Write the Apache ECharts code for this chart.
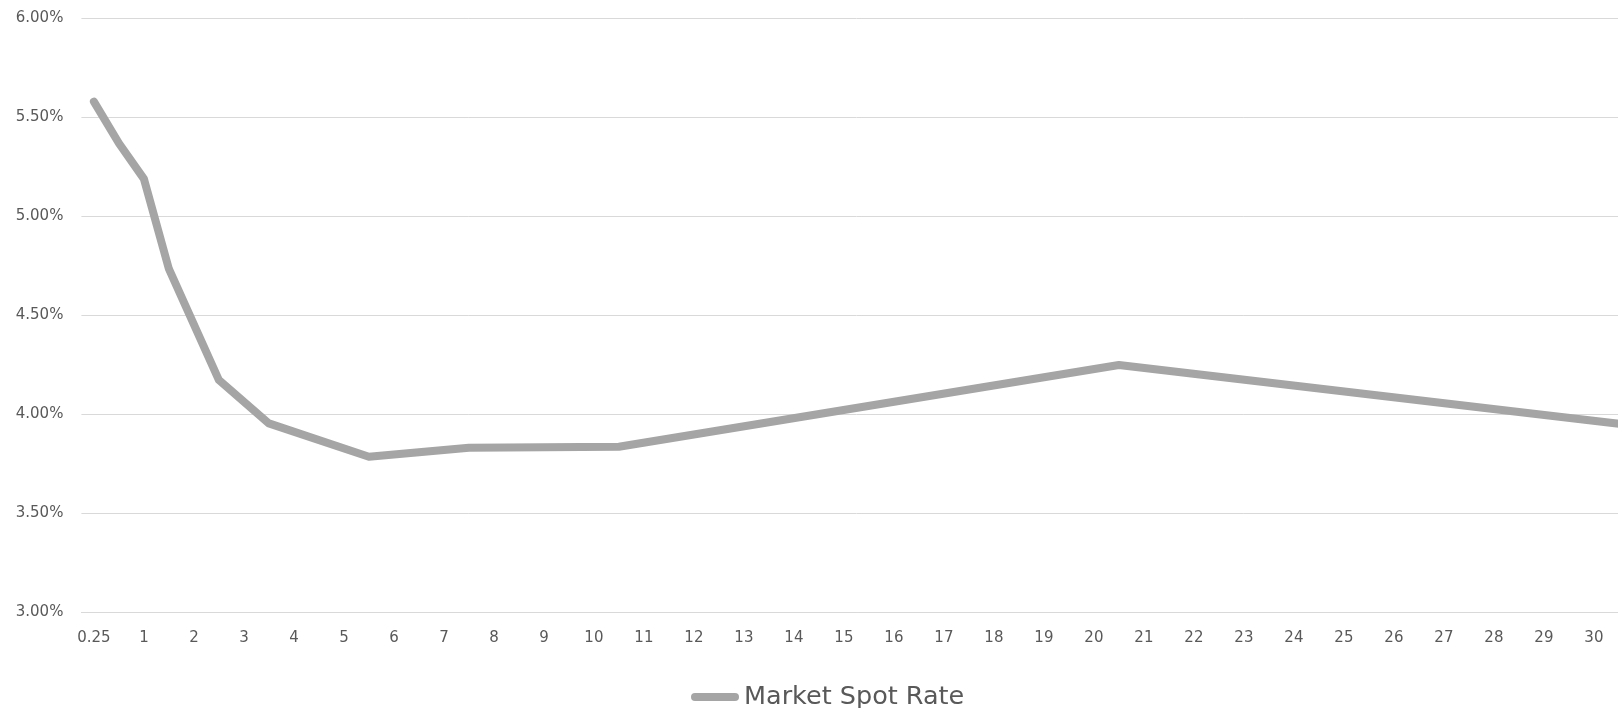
<!DOCTYPE html>
<html>
<head>
<meta charset="utf-8">
<script src="https://cdn.jsdelivr.net/npm/echarts@6/dist/echarts.min.js"></script>
<style>
  html, body { margin: 0; padding: 0; background: #ffffff; overflow: hidden; width: 1618px; height: 708px; }
  #chart { width: 1632px; height: 708px; }
</style>
</head>
<body>
<div id="chart"></div>
<script>
// Tenor categories (years); every other label is shown on the axis
var categories = ["0.25","0.5","1","1.5","2","2.5","3","3.5","4","4.5","5","5.5","6","6.5","7","7.5","8","8.5","9","9.5","10","10.5","11","11.5","12","12.5","13","13.5","14","14.5","15","15.5","16","16.5","17","17.5","18","18.5","19","19.5","20","20.5","21","21.5","22","22.5","23","23.5","24","24.5","25","25.5","26","26.5","27","27.5","28","28.5","29","29.5","30","30.5"];

// Market spot rate (%) at its vertices; gaps are joined by straight segments
var spotRate = [5.58, 5.37, 5.19, 4.735, null, 4.174, null, 3.955, null, null, null, 3.787, null, null, null, 3.832, null, null, null, null, null, 3.837, null, null, null, null, null, null, null, null, null, null, null, null, null, null, null, null, null, null, null, 4.25, null, null, null, null, null, null, null, null, null, null, null, null, null, null, null, null, null, null, null, 3.953];

var yTicks = { min: 3, max: 6, interval: 0.5 };

var chart = echarts.init(document.getElementById('chart'), null, { renderer: 'canvas' });
chart.setOption({
  animation: false,
  backgroundColor: '#ffffff',
  textStyle: { fontFamily: 'DejaVu Sans' },
  grid: { left: 81.4, width: 1550, top: 18.5, bottom: 95.5, containLabel: false },
  legend: {
    data: ['Market Spot Rate'],
    left: 686,
    top: 679,
    itemWidth: 48,
    itemHeight: 8,
    icon: 'path://M4,0 H44 A4,4 0 0 1 44,8 H4 A4,4 0 0 1 4,0 Z',
    textStyle: { color: '#595959', fontSize: 25.5, fontFamily: 'DejaVu Sans' }
  },
  xAxis: {
    type: 'category',
    data: categories,
    boundaryGap: true,
    axisLine: { show: true, lineStyle: { color: '#D9D9D9', width: 1 } },
    axisTick: { show: false },
    splitLine: { show: false },
    axisLabel: { interval: 1, color: '#595959', fontSize: 15, margin: 18, fontFamily: 'DejaVu Sans' }
  },
  yAxis: {
    type: 'value',
    min: yTicks.min,
    max: yTicks.max,
    interval: yTicks.interval,
    axisLine: { show: false },
    axisTick: { show: false },
    splitLine: { show: true, lineStyle: { color: '#D9D9D9', width: 1 } },
    axisLabel: {
      color: '#595959', fontSize: 15, margin: 18, fontFamily: 'DejaVu Sans',
      formatter: function (v) { return v.toFixed(2) + '%'; }
    }
  },
  series: [{
    name: 'Market Spot Rate',
    type: 'line',
    data: spotRate,
    connectNulls: true,
    showSymbol: false,
    symbol: 'none',
    clip: false,
    itemStyle: { color: '#A5A5A5' },
    lineStyle: { color: '#A5A5A5', width: 8, cap: 'round', join: 'round' }
  }]
});
</script>
</body>
</html>
